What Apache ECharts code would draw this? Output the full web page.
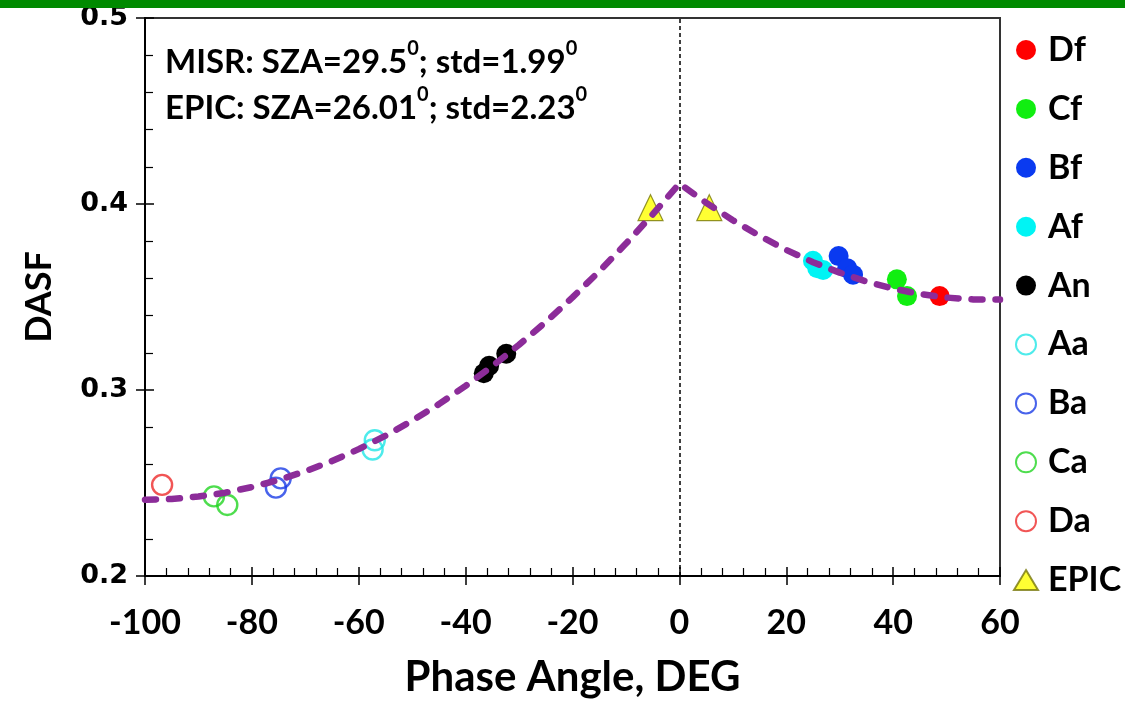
<!DOCTYPE html>
<html>
<head>
<meta charset="utf-8">
<title>DASF vs Phase Angle</title>
<script src="https://cdn.jsdelivr.net/npm/echarts@6/dist/echarts.min.js"></script>
<style>
  html, body { margin: 0; padding: 0; background: #fff; }
  #chart { width: 1125px; height: 703px; }
</style>
</head>
<body>
<div id="chart"></div>
<script>
// Axis ranges
const phaseMin = -100, phaseMax = 60, phaseStep = 20;
const dasfMin = 0.2, dasfMax = 0.5, dasfStep = 0.1;

// MISR forward-scattering (filled) samples: [phase angle, DASF]
const dfPts = [[48.7, 0.3505]];
const cfPts = [[40.7, 0.3595], [42.6, 0.3505]];
const bfPts = [[29.8, 0.372], [31.4, 0.3655], [32.5, 0.362]];
const afPts = [[25.0, 0.3695], [25.8, 0.3655], [26.9, 0.3645]];
const anPts = [[-36.6, 0.309], [-35.6, 0.313], [-32.4, 0.3195]];
// MISR aft-scattering (open) samples
const aaPts = [[-57.0, 0.273], [-57.4, 0.268]];
const baPts = [[-75.5, 0.2475], [-74.6, 0.2525]];
const caPts = [[-87.1, 0.2428], [-84.6, 0.2382]];
const daPts = [[-96.8, 0.249]];
// EPIC samples
const epicPts = [[-5.4, 0.398], [5.6, 0.398]];

// Fitted DASF curve
const fitPhase = [-100, -95, -90, -85, -80, -75, -70, -65, -60, -55, -50, -45, -40, -35, -30, -25, -20, -15, -10, -5, 0,
                  5, 10, 15, 20, 25, 30, 35, 40, 45, 50, 55, 60];
const fitDasf  = [0.2410, 0.2414, 0.2427, 0.2448, 0.2478, 0.2516, 0.2563, 0.2618, 0.2682, 0.2754, 0.2835, 0.2924,
                  0.3022, 0.3128, 0.3243, 0.3366, 0.3498, 0.3638, 0.3787, 0.3944, 0.4110,
                  0.4007, 0.3913, 0.3829, 0.3753, 0.3687, 0.3631, 0.3583, 0.3545, 0.3516, 0.3497, 0.3487, 0.3486];

// Legend order and colours
const legendNames = ['Df', 'Cf', 'Bf', 'Af', 'An', 'Aa', 'Ba', 'Ca', 'Da', 'EPIC'];
const filledColors = { Df: '#ff0000', Cf: '#11ee11', Bf: '#0a3af0', Af: '#00f4f4', An: '#000000' };
const openColors = { Aa: '#22e6e6', Ba: '#1a3ce6', Ca: '#22d422', Da: '#ee2a2a' };

const FONT = 'Lato, "Open Sans", sans-serif';
const chart = echarts.init(document.getElementById('chart'), null, { renderer: 'canvas' });

function filledSeries(name, pts) {
  return {
    name, type: 'scatter', data: pts, symbol: 'circle', symbolSize: 20, z: 3,
    itemStyle: { color: filledColors[name], opacity: 1 }
  };
}
function openSeries(name, pts) {
  return {
    name, type: 'scatter', data: pts, symbol: 'circle', symbolSize: 20, z: 3,
    itemStyle: { color: 'rgba(255,255,255,0)', borderColor: openColors[name], borderWidth: 2.4 }
  };
}

const fitLine = fitPhase.map((p, i) => [p, fitDasf[i]]);

const commonX = { type: 'value', min: phaseMin, max: phaseMax, interval: phaseStep, gridIndex: 0, position: 'bottom' };
const commonY = { type: 'value', min: dasfMin, max: dasfMax, interval: dasfStep, gridIndex: 0, position: 'left' };

chart.setOption({
  animation: false,
  backgroundColor: '#ffffff',
  grid: {
    left: 145, right: 125, top: 18, bottom: 126,
    show: true, borderColor: '#333', borderWidth: 2, backgroundColor: 'transparent'
  },
  xAxis: [
    Object.assign({}, commonX, {
      name: 'Phase Angle, DEG', nameLocation: 'middle', nameGap: 80,
      nameTextStyle: { fontFamily: FONT, fontWeight: 'bold', fontSize: 42, color: '#000' },
      axisLine: { onZero: false, lineStyle: { color: '#000', width: 2 } },
      axisTick: { show: true, inside: false, length: 9, lineStyle: { color: '#000', width: 1.5 } },
      axisLabel: { margin: 30, fontFamily: FONT, fontWeight: 'bold', fontSize: 34, color: '#000' },
      splitLine: { show: false }
    }),
    Object.assign({}, commonX, {
      axisLine: { show: false, onZero: false },
      axisTick: { show: true, inside: true, length: 9, lineStyle: { color: '#000', width: 1.5 } },
      minorTick: { show: true, splitNumber: 5, length: 8, lineStyle: { color: '#000', width: 1.2 } },
      axisLabel: { show: false },
      splitLine: { show: false }
    })
  ],
  yAxis: [
    Object.assign({}, commonY, {
      name: 'DASF', nameLocation: 'middle', nameGap: 88, nameRotate: 90,
      nameTextStyle: { fontFamily: FONT, fontWeight: 'bold', fontSize: 36, color: '#000' },
      axisLine: { onZero: false, lineStyle: { color: '#000', width: 2 } },
      axisTick: { show: true, inside: false, length: 9, lineStyle: { color: '#000', width: 1.5 } },
      axisLabel: {
        margin: 17, fontFamily: '"DejaVu Sans", sans-serif', fontWeight: 'bold', fontSize: 27, color: '#000',
        formatter: v => v.toFixed(1)
      },
      splitLine: { show: false }
    }),
    Object.assign({}, commonY, {
      axisLine: { show: false, onZero: false },
      axisTick: { show: true, inside: true, length: 9, lineStyle: { color: '#000', width: 1.5 } },
      minorTick: { show: true, splitNumber: 5, length: 8, lineStyle: { color: '#000', width: 1.2 } },
      axisLabel: { show: false },
      splitLine: { show: false }
    })
  ],
  legend: {
    data: legendNames,
    orient: 'vertical',
    left: 1013, top: 33, padding: 0,
    itemWidth: 24, itemHeight: 20, itemGap: 24.9,
    selectedMode: false,
    textStyle: { fontFamily: FONT, fontWeight: 'bold', fontSize: 34, color: '#000', lineHeight: 30, padding: [0, 0, 0, 5] }
  },
  graphic: [
    { type: 'rect', left: 0, top: 0, z: 100, shape: { width: 1125, height: 8 }, style: { fill: '#008a00' } },
    {
      type: 'text', left: 165, top: 39, z: 50,
      style: {
        text: '{a|MISR: SZA=29.5}{s|0}{a|; std=1.99}{s|0}\n{a|EPIC: SZA=26.01}{s|0}{a|; std=2.23}{s|0}',
        fill: '#000',
        rich: {
          a: { fontFamily: FONT, fontWeight: 'bold', fontSize: 33, lineHeight: 46, fill: '#000' },
          s: { fontFamily: FONT, fontWeight: 'bold', fontSize: 20, lineHeight: 30, verticalAlign: 'top', fill: '#000' }
        }
      }
    }
  ],
  series: [
    filledSeries('Df', dfPts),
    filledSeries('Cf', cfPts),
    filledSeries('Bf', bfPts),
    filledSeries('Af', afPts),
    filledSeries('An', anPts),
    openSeries('Aa', aaPts),
    openSeries('Ba', baPts),
    openSeries('Ca', caPts),
    openSeries('Da', daPts),
    {
      name: 'EPIC', type: 'scatter', data: epicPts, symbol: 'triangle', symbolSize: [25, 26], z: 3,
      itemStyle: { color: '#ffff00', borderColor: '#77770a', borderWidth: 1.2 }
    },
    {
      name: 'fit', type: 'line', data: fitLine, showSymbol: false, symbol: 'none', z: 5,
      lineStyle: { color: '#8c2c99', width: 6.5, type: [11, 13], cap: 'round' },
      markLine: {
        silent: true, symbol: 'none', z: 1,
        label: { show: false },
        lineStyle: { color: '#000', type: [4, 3], width: 1.5 },
        data: [{ xAxis: 0 }]
      }
    }
  ]
});
</script>
</body>
</html>
